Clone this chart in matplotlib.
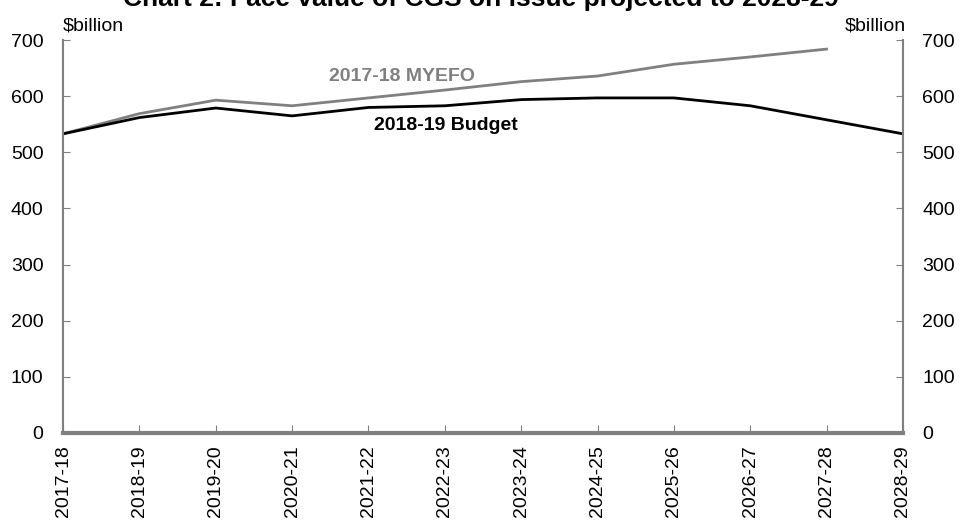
import matplotlib.pyplot as plt

plt.rcParams['font.family'] = ['Liberation Sans', 'DejaVu Sans']

# Data
years = ["2017-18", "2018-19", "2019-20", "2020-21", "2021-22", "2022-23",
         "2023-24", "2024-25", "2025-26", "2026-27", "2027-28", "2028-29"]
budget = [533, 562, 579, 565, 580, 583, 594, 597, 597, 583, 558, 533]
myefo = [533, 569, 593, 583, 597, 611, 626, 636, 657, 670, 684]

grey = "#808080"

fig = plt.figure(figsize=(9.61, 5.21), dpi=100)
ax = fig.add_axes([0.0656, 0.169, 0.874, 0.754])

x = list(range(len(years)))
ax.plot(x[:len(myefo)], myefo, color=grey, lw=2)
ax.plot(x, budget, color="black", lw=2)

ax.set_xlim(0, len(years) - 1)
ax.set_ylim(0, 700)
ax.set_yticks(range(0, 701, 100))
ax.set_xticks(x)
ax.set_xticklabels(years, rotation=90, fontsize=14)
ax.tick_params(axis='y', labelsize=14, direction='in', length=5, color=grey,
               left=True, right=True, labelleft=True, labelright=True, pad=14)
ax.tick_params(axis='x', direction='in', length=6, color=grey, pad=9)

ax.spines["top"].set_visible(False)
for s in ["left", "right"]:
    ax.spines[s].set_color(grey)
    ax.spines[s].set_linewidth(1.5)
ax.spines["bottom"].set_color(grey)
ax.spines["bottom"].set_linewidth(3)

ax.text(4.44, 636, "2017-18 MYEFO", color=grey, fontsize=14, fontweight='bold',
        ha='center', va='center')
ax.text(5.02, 548, "2018-19 Budget", color="black", fontsize=14, fontweight='bold',
        ha='center', va='center')

fig.text(0.0656, 1 - 30 / 521, "$billion", fontsize=14, ha='left', va='baseline')
fig.text(0.943, 1 - 30 / 521, "$billion", fontsize=14, ha='right', va='baseline')
fig.text(0.5, 1 - 6 / 521, "Chart 2: Face value of CGS on issue projected to 2028-29",
         fontsize=19, fontweight='bold', ha='center', va='baseline')

fig.savefig("out.png", dpi=100)
